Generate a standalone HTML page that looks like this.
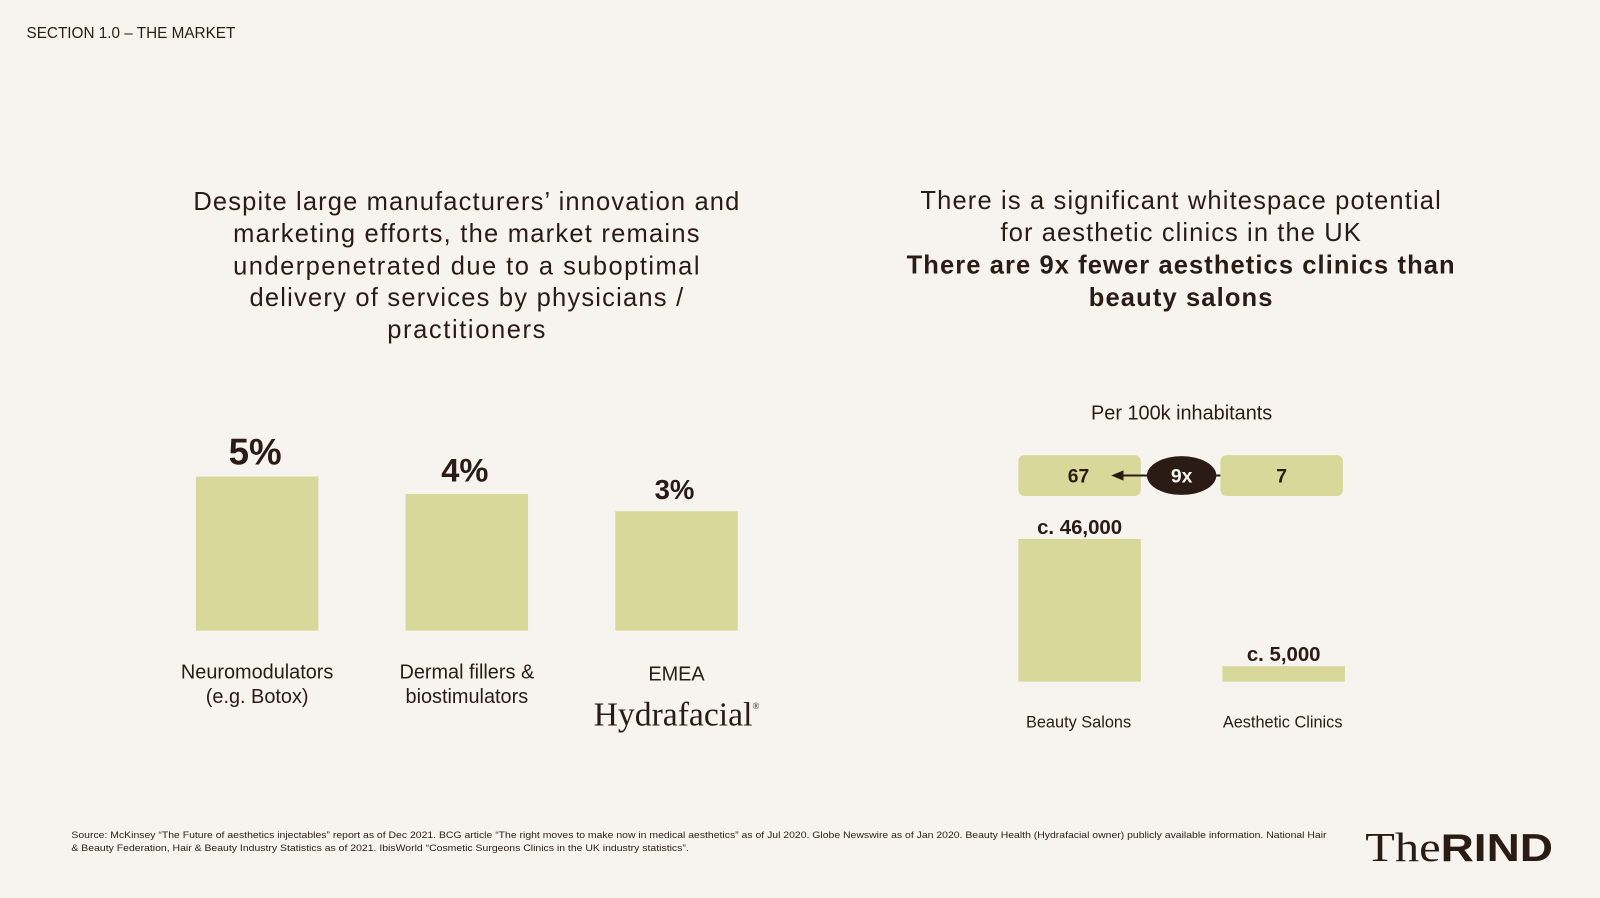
<!DOCTYPE html>
<html><head><meta charset="utf-8"><style>
html,body{margin:0;padding:0;background:#f7f4ef;}
svg{display:block;font-family:"Liberation Sans",sans-serif;}
</style></head><body>
<svg id="s" width="1600" height="898" viewBox="0 0 1568 880" xmlns="http://www.w3.org/2000/svg">
<rect width="1568" height="880" fill="#f7f4ef"/>
<text x="26" y="37" font-size="15" fill="#2a1c15">SECTION 1.0 – THE MARKET</text>
<g font-size="25" fill="#2a1c15" text-anchor="middle">
<text x="457" y="206" textLength="535" lengthAdjust="spacing">Despite large manufacturers’ innovation and</text>
<text x="457" y="237" textLength="457" lengthAdjust="spacing">marketing efforts, the market remains</text>
<text x="457" y="269" textLength="457" lengthAdjust="spacing">underpenetrated due to a suboptimal</text>
<text x="457" y="300" textLength="425" lengthAdjust="spacing">delivery of services by physicians /</text>
<text x="457" y="331" textLength="155" lengthAdjust="spacing">practitioners</text>
</g>
<g font-size="25" fill="#2a1c15" text-anchor="middle">
<text x="1157" y="205" textLength="510" lengthAdjust="spacing">There is a significant whitespace potential</text>
<text x="1157" y="236" textLength="353" lengthAdjust="spacing">for aesthetic clinics in the UK</text>
<text x="1157" y="268" font-weight="bold" textLength="537" lengthAdjust="spacing">There are 9x fewer aesthetics clinics than</text>
<text x="1157" y="300" font-weight="bold" textLength="180" lengthAdjust="spacing">beauty salons</text>
</g>
<g id="left"></g>
<text x="663" y="711" font-family="Liberation Serif,serif" font-size="33" fill="#2a1c15" text-anchor="middle">Hydrafacial<tspan font-size="9" dy="-16">®</tspan></text>
<text x="1158" y="411" font-size="19.5" fill="#2a1c15" text-anchor="middle">Per 100k inhabitants</text>
<g>
<rect x="998" y="446" width="120" height="40" rx="6" fill="#d8d89a"/>
<text x="1057" y="473" font-size="19" font-weight="bold" fill="#2a1c15" text-anchor="middle">67</text>
<rect x="1196" y="446" width="120" height="40" rx="6" fill="#d8d89a"/>
<text x="1256" y="473" font-size="19" font-weight="bold" fill="#2a1c15" text-anchor="middle">7</text>
<line x1="1100" y1="466" x2="1196" y2="466" stroke="#2a1c15" stroke-width="2"/>
<polygon points="1089,466 1101,461 1101,471" fill="#2a1c15"/>
<ellipse cx="1158" cy="466" rx="34" ry="19" fill="#2a1c15"/>
<text x="1158" y="473" font-size="19" font-weight="bold" fill="#f7f4ef" text-anchor="middle">9x</text>
</g>
<g id="right"></g>
<g font-size="9" fill="#2a1c15">
<text x="70" y="821" textLength="1230" lengthAdjust="spacingAndGlyphs">Source: McKinsey “The Future of aesthetics injectables” report as of Dec 2021. BCG article “The right moves to make now in medical aesthetics” as of Jul 2020. Globe Newswire as of Jan 2020. Beauty Health (Hydrafacial owner) publicly available information. National Hair</text>
<text x="70" y="834" textLength="605" lengthAdjust="spacingAndGlyphs">&amp; Beauty Federation, Hair &amp; Beauty Industry Statistics as of 2021. IbisWorld “Cosmetic Surgeons Clinics in the UK industry statistics”.</text>
</g>
<text x="1338" y="844" fill="#2a1c15" textLength="184" lengthAdjust="spacingAndGlyphs"><tspan font-family="Liberation Serif,serif" font-size="40">The</tspan><tspan font-size="38" font-weight="bold">RIND</tspan></text>
</svg>
<script>
const leftCats=["Neuromodulators|(e.g. Botox)","Dermal fillers &|biostimulators","EMEA"];
const leftVals=[5,4,3];
const leftLabels=["5%","4%","3%"];
const rightCats=["Beauty Salons","Aesthetic Clinics"];
const rightVals=[46000,5000];
const rightLabels=["c. 46,000","c. 5,000"];
const NS="http://www.w3.org/2000/svg";
function mk(t,a,p){const e=document.createElementNS(NS,t);for(const k in a)e.setAttribute(k,a[k]);p.appendChild(e);return e;}
const L=document.getElementById('left'),R=document.getElementById('right');
const lBase=618,lX=i=>192+i*205.5,lH=v=>66+17*v;
const fs=[36,32,27];
leftVals.forEach((v,i)=>{
 const r=mk('rect',{x:lX(i),y:lBase-lH(v),width:120,height:lH(v),fill:'#d8d89a'},L);
 
 
 const t=mk('text',{x:lX(i)+58,y:lBase-lH(v)-12,'font-size':fs[i],'font-weight':'bold',fill:'#2a1c15','text-anchor':'middle'},L);
 t.textContent=leftLabels[i];
 
 
 const lines=leftCats[i].split('|');
 lines.forEach((s,j)=>{const c=mk('text',{x:lX(i)+60,y:(lines.length>1?665:667)+j*24,'font-size':19.5,fill:'#2a1c15','text-anchor':'middle'},L);c.textContent=s;
 
 });
});
const rBase=668,rX=i=>998+i*200,rH=v=>v*0.00304;
rightVals.forEach((v,i)=>{
 const r=mk('rect',{x:rX(i),y:rBase-rH(v),width:120,height:rH(v),fill:'#d8d89a'},R);
 
 
 const t=mk('text',{x:rX(i)+60,y:rBase-rH(v)-5,'font-size':20,'font-weight':'bold',fill:'#2a1c15','text-anchor':'middle'},R);
 t.textContent=rightLabels[i];
 
 
 const c=mk('text',{x:rX(i)+59,y:713,'font-size':16,fill:'#2a1c15','text-anchor':'middle'},R);
 c.textContent=rightCats[i];
 
 
});
</script>
</body></html>
